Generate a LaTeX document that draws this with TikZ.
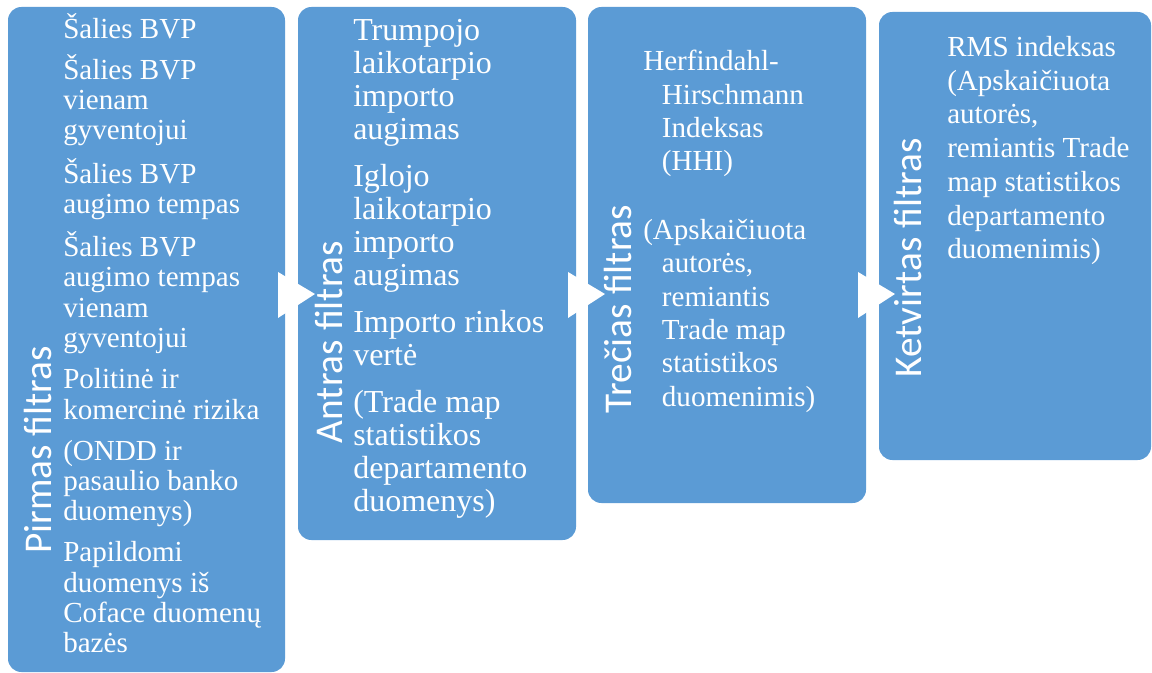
\documentclass[tikz,border=0pt]{standalone}
\usepackage{fontspec}
\setmainfont{Liberation Serif}
\newfontfamily\titlefont{Carlito}
\usepackage{tikz}
\usetikzlibrary{shapes,positioning,fit}
\definecolor{boxblue}{RGB}{91,155,213}
\tikzstyle{filterbox} = [fill=boxblue, rounded corners=10pt, inner sep=0pt]
\tikzstyle{filtertitle} = [rotate=90, text=white, inner sep=0pt, font=\titlefont\fontsize{29.5}{30}\selectfont]
\tikzstyle{filtertext} = [anchor=north west, align=left, text=white, inner sep=0pt]
\tikzstyle{pointer} = [fill=white]

\begin{document}
\begin{tikzpicture}[x=0.75pt, y=-0.75pt]
\useasboundingbox (0,0) rectangle (1152,673);

% Boxes
\node[filterbox, fit={(8,7) (285,672)}] (pirmas) {};
\node[filterbox, fit={(298,7) (576,540)}] (antras) {};
\node[filterbox, fit={(588,7) (866,503)}] (trecias) {};
\node[filterbox, fit={(879,12) (1151,460)}] (ketvirtas) {};

% Pointers between boxes
\foreach \x in {278,568,858}
  \fill[pointer] (\x,272) -- (\x+37,294) -- (\x,318) -- cycle;

% Titles
\node[filtertitle] (pirmastitle) at (38,450) {Pirmas filtras};
\node[filtertitle] (antrastitle) at (329,342) {Antras filtras};
\node[filtertitle] (treciastitle) at (618,309) {Trečias filtras};
\node[filtertitle] (ketvirtastitle) at (908,258) {Ketvirtas filtras};

% Texts
\node[filtertext, font=\fontsize{21.8}{22.8}\selectfont] (pirmastext) at (63,13)
  {Šalies BVP\\[7.9pt]
   Šalies BVP\\ vienam\\ gyventojui\\[7.9pt]
   Šalies BVP\\ augimo tempas\\[7.9pt]
   Šalies BVP\\ augimo tempas\\ vienam\\ gyventojui\\[7.9pt]
   Politinė ir\\ komercinė rizika\\[7.9pt]
   (ONDD ir\\ pasaulio banko\\ duomenys)\\[7.9pt]
   Papildomi\\ duomenys iš\\ Coface duomenų\\ bazės};
\node[filtertext, font=\fontsize{24}{24.75}\selectfont] (antrastext) at (353,19)
  {Trumpojo\\ laikotarpio\\ importo\\ augimas\\[10.5pt]
   Iglojo\\ laikotarpio\\ importo\\ augimas\\[10.5pt]
   Importo rinkos\\ vertė\\[10.5pt]
   (Trade map\\ statistikos\\ departamento\\ duomenys)};
\node[filtertext, font=\fontsize{21.8}{25}\selectfont] (treciastext) at (643,50)
  {Herfindahl-\\ \hspace*{14pt}Hirschmann\\ \hspace*{14pt}Indeksas\\ \hspace*{14pt}(HHI)\\[26.6pt]
   (Apskaičiuota\\ \hspace*{14pt}autorės,\\ \hspace*{14pt}remiantis\\ \hspace*{14pt}Trade map\\
   \hspace*{14pt}statistikos\\ \hspace*{14pt}duomenimis)};
\node[filtertext, font=\fontsize{21.8}{25.3}\selectfont] (ketvirtastext) at (947,36)
  {RMS indeksas\\ (Apskaičiuota\\ autorės,\\ remiantis Trade\\ map statistikos\\
   departamento\\ duomenimis)};
\end{tikzpicture}
\end{document}
